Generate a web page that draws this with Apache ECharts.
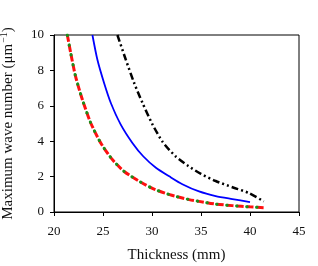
<!DOCTYPE html>
<html>
<head>
<meta charset="utf-8">
<script src="https://cdn.jsdelivr.net/npm/echarts@6/dist/echarts.min.js"></script>
<style>html,body{margin:0;padding:0;background:#fff}#c{width:318px;height:266px}</style>
</head>
<body>
<div id="c"></div>
<script>
// Data
var xTicks = [20, 25, 30, 35, 40, 45];
var yTicks = [0, 2, 4, 6, 8, 10];

var redX = [21.36, 21.7, 22.2, 22.9, 23.75, 24.77, 25.9, 27.16, 28.87, 30.1, 31.8, 33.8, 34.8, 36.5, 38.2, 40.0, 41.6];
var redY = [10, 9.0, 7.66, 6.34, 5.03, 3.9, 3.0, 2.29, 1.68, 1.32, 0.98, 0.7, 0.6, 0.45, 0.36, 0.29, 0.24];

var greenX = [21.36, 21.7, 22.2, 22.9, 23.75, 24.77, 25.9, 27.16, 28.87, 30.1, 31.8, 33.8, 34.8, 36.5, 38.2, 40.0, 41.6];
var greenY = [10, 9.0, 7.66, 6.34, 5.03, 3.9, 3.0, 2.29, 1.68, 1.32, 0.98, 0.7, 0.6, 0.45, 0.36, 0.29, 0.24];

var blueX = [23.92, 24.43, 25.11, 25.8, 26.8, 28.0, 29.1, 30.4, 31.8, 33.1, 34.8, 36.5, 38.2, 40.0];
var blueY = [10, 8.6, 7.29, 6.16, 4.95, 3.9, 3.15, 2.5, 2.0, 1.57, 1.16, 0.9, 0.73, 0.56];

var blackX = [26.47, 27.33, 28.18, 29.03, 30.05, 31.1, 32.4, 33.7, 35.0, 36.5, 38.2, 39.9, 41.4];
var blackY = [10, 8.6, 7.29, 6.16, 4.95, 3.95, 3.15, 2.6, 2.15, 1.75, 1.4, 1.07, 0.6];

function pairs(xs, ys) { return xs.map(function (x, i) { return [x, ys[i]]; }); }

var font = 'Liberation Serif, Times New Roman, serif';
var chart = echarts.init(document.getElementById('c'), null, {renderer: 'canvas'});
chart.setOption({
  animation: false,
  backgroundColor: '#fff',
  grid: {left: 54, right: 19, top: 35, bottom: 54, outerBoundsMode: 'none', containLabel: false,
    show: true, borderColor: '#000', borderWidth: 1, backgroundColor: 'transparent'},
  xAxis: {
    type: 'value', min: xTicks[0], max: xTicks[xTicks.length - 1], interval: 5,
    name: 'Thickness (mm)', nameLocation: 'middle', nameGap: 36,
    nameTextStyle: {fontFamily: font, fontSize: 15, color: '#111'},
    axisLine: {show: true, lineStyle: {color: '#000', width: 1}},
    axisTick: {show: true, inside: false, length: 4, lineStyle: {color: '#000'}},
    axisLabel: {margin: 13, fontFamily: font, fontSize: 13, color: '#111'},
    splitLine: {show: false}
  },
  yAxis: {
    type: 'value', min: yTicks[0], max: yTicks[yTicks.length - 1], interval: 2,
    name: 'Maximum wave number (μm{sup|−1})', nameLocation: 'middle', nameGap: 36,
    nameTextStyle: {fontFamily: font, fontSize: 15, color: '#111',
      rich: {sup: {fontFamily: font, fontSize: 10, color: '#111', padding: [0, 0, 9, 1]}}},
    axisLine: {show: true, lineStyle: {color: '#000', width: 1}},
    axisTick: {show: true, inside: false, length: 4, lineStyle: {color: '#000'}},
    axisLabel: {margin: 10, fontFamily: font, fontSize: 13, color: '#111'},
    splitLine: {show: false}
  },
  series: [
    {type: 'line', data: pairs(blackX, blackY), smooth: 0.25, symbol: 'none',
      lineStyle: {color: '#000', width: 2.5, type: [7, 3, 2, 3, 2, 3]}},
    {type: 'line', data: pairs(blueX, blueY), smooth: 0.25, symbol: 'none',
      lineStyle: {color: '#0000ff', width: 1.8}},
    {type: 'line', data: pairs(redX, redY), smooth: 0.25, symbol: 'none',
      lineStyle: {color: '#ff1010', width: 3, type: [7, 3]}},
    {type: 'line', data: pairs(greenX, greenY), smooth: 0.25, symbol: 'none',
      lineStyle: {color: '#1a8f1a', width: 3, type: [0.5, 9.5], cap: 'round'}}
  ]
});
</script>
</body>
</html>
